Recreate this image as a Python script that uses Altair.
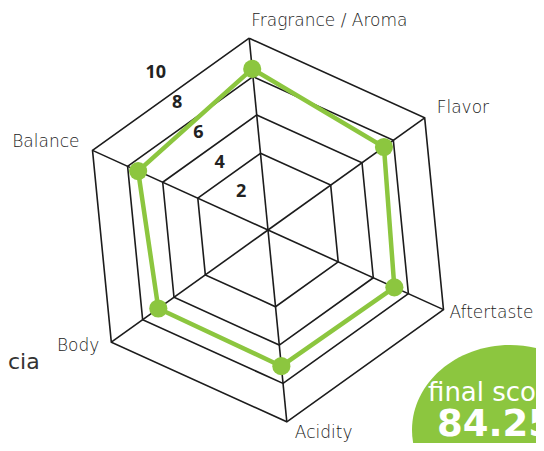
import altair as alt
import pandas as pd

# ---- data ----
categories = ["Fragrance / Aroma", "Flavor", "Aftertaste", "Acidity", "Body", "Balance"]
scores = [8.4, 7.4, 7.2, 7.1, 7.0, 7.4]
ring_levels = [4, 6, 8, 10]
tick_values = [2, 4, 6, 8, 10]
max_value = 10
final_label = "final score"
final_score = "84.25"
side_text = "cia"

# ---- layout / style ----
ROT = -5.6
STEP = 360 / len(categories)
W, H = 528, 435
CX, CY = 260, 222
PX = 19.27
x_dom = [-CX / PX, (W - CX) / PX]
y_dom = [-(H - CY) / PX, CY / PX]
GREEN = "#8cc63f"
INK = "#1c1c1c"
LABEL_FONT = "DejaVu Sans"
TICK_FONT = "Open Sans"

xs = alt.Scale(domain=x_dom, nice=False, zero=False)
ys = alt.Scale(domain=y_dom, nice=False, zero=False)
X = alt.X("px:Q", scale=xs, axis=None)
Y = alt.Y("py:Q", scale=ys, axis=None)


def polar(r_expr, idx_expr):
    a = f"(({ROT}) + {STEP}*({idx_expr}))*PI/180"
    return dict(px=f"({r_expr})*sin({a})", py=f"({r_expr})*cos({a})")


n = len(categories)
poly = pd.DataFrame({
    "idx": list(range(n + 1)),
    "category": categories + [categories[0]],
    "score": scores + [scores[0]],
})
pts = poly.iloc[:n]

rings = pd.DataFrame([
    {"level": lv, "idx": k} for lv in ring_levels for k in range(n + 1)
])
spokes = pd.DataFrame({"idx": list(range(n)), "category": categories})
spokes["rmax"] = max_value
ticks = pd.DataFrame({"v": tick_values})

ring_layer = alt.Chart(rings).transform_calculate(
    **polar("datum.level", "datum.idx")
).mark_line(color=INK, strokeWidth=1.6).encode(
    x=X, y=Y, detail="level:N", order="idx:Q"
)

spoke_layer = alt.Chart(spokes).transform_calculate(
    zero="0", **polar("datum.rmax", "datum.idx")
).mark_rule(color=INK, strokeWidth=1.6).encode(
    x=X, y=Y, x2=alt.X2("zero:Q"), y2=alt.Y2("zero:Q")
)

line_layer = alt.Chart(poly).transform_calculate(
    **polar("datum.score", "datum.idx")
).mark_line(color=GREEN, strokeWidth=4.5).encode(
    x=X, y=Y, order="idx:Q"
)

point_layer = alt.Chart(pts).transform_calculate(
    **polar("datum.score", "datum.idx")
).mark_circle(color=GREEN, size=330, opacity=1).encode(x=X, y=Y)

label_style = {
    "Fragrance / Aroma": ("left", 2, -17),
    "Flavor": ("left", 12, -10),
    "Aftertaste": ("left", 6, 3),
    "Acidity": ("left", 8, 11),
    "Body": ("right", -12, 4),
    "Balance": ("right", -13, -8),
}

label_layers = []
for cat in categories:
    al, dx, dy = label_style[cat]
    label_layers.append(
        alt.Chart(spokes).transform_filter(
            alt.datum.category == cat
        ).transform_calculate(
            **polar("datum.rmax", "datum.idx")
        ).mark_text(
            align=al, baseline="middle", dx=dx, dy=dy,
            font=LABEL_FONT, fontSize=17, fontWeight=200, color="#222222"
        ).encode(x=X, y=Y, text="category:N")
    )

tick_layer = alt.Chart(ticks).transform_calculate(
    **polar("datum.v*0.95 + 0.5", "-0.5")
).mark_text(
    align="center", baseline="middle", font=TICK_FONT,
    fontSize=18, fontWeight=700, color="#222222"
).encode(x=X, y=Y, text="v:Q")

one = pd.DataFrame({"label": [final_label], "score": [final_score], "side": [side_text]})

ellipse_path = "M -1 0 A 1 0.867 0 1 1 1 0 A 1 0.867 0 1 1 -1 0 Z"
ellipse_layer = alt.Chart(one).mark_point(
    shape=ellipse_path, filled=True, color=GREEN, opacity=1, size=196 ** 2, strokeWidth=0
).encode(x=alt.value(502), y=alt.value(422))

final_text = alt.Chart(one).mark_text(
    align="left", baseline="alphabetic", font=LABEL_FONT, fontSize=26,
    fontWeight=400, color="white"
).encode(x=alt.value(420), y=alt.value(393), text="label:N")

score_text = alt.Chart(one).mark_text(
    align="left", baseline="alphabetic", font=LABEL_FONT, fontSize=37,
    fontWeight=700, color="white"
).encode(x=alt.value(429), y=alt.value(428), text="score:N")

side_layer = alt.Chart(one).mark_text(
    align="left", baseline="middle", font=LABEL_FONT, fontSize=22,
    fontWeight=400, color="#333333"
).encode(x=alt.value(0), y=alt.value(354), text="side:N")

chart = alt.layer(
    ring_layer, spoke_layer, line_layer, point_layer, *label_layers,
    tick_layer, ellipse_layer, final_text, score_text, side_layer
).properties(
    width=W, height=H, padding=0,
    autosize=alt.AutoSizeParams(type="none"),
    background="white",
).configure_view(stroke=None)

chart.save("out.html", embed_options={"renderer": "svg", "actions": False})
